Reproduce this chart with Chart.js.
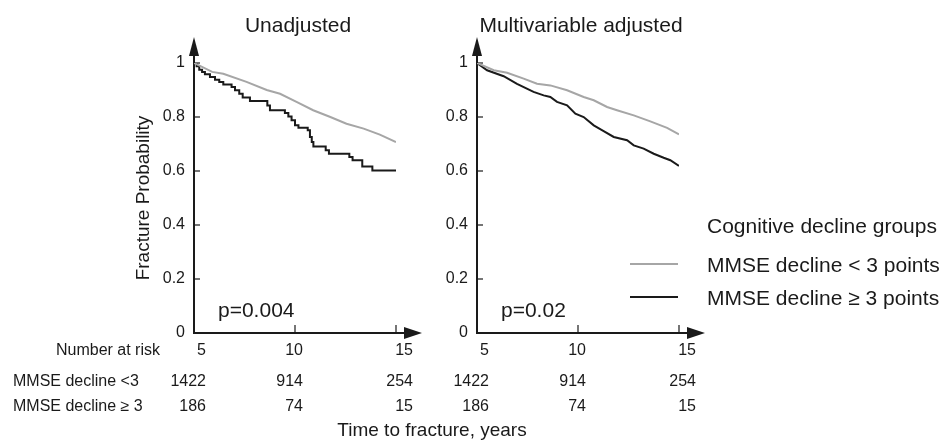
<!DOCTYPE html>
<html><head><meta charset="utf-8">
<script src="https://cdn.jsdelivr.net/npm/chart.js@4.4.1/dist/chart.umd.min.js"></script>
<style>
html,body{margin:0;padding:0;background:#fff;}
#wrap{position:relative;width:944px;height:440px;background:#fff;}
canvas{position:absolute;left:0;top:0;}
</style></head><body>
<div id="wrap"><canvas id="c1" width="944" height="440"></canvas><canvas id="c2" width="944" height="440"></canvas></div>
<script>
// ---- text ----
const panelTitles = ['Unadjusted', 'Multivariable adjusted'];
const pValues = ['p=0.004', 'p=0.02'];
const seriesLabels = ['MMSE decline < 3 points', 'MMSE decline \u2265 3 points'];
const legendTitle = 'Cognitive decline groups';
const yAxisTitle = 'Fracture Probability';
const xAxisTitle = 'Time to fracture, years';
const riskHeader = 'Number at risk';
const riskRowLabels = ['MMSE decline <3', 'MMSE decline \u2265 3'];

// ---- ticks ----
const yTicks = [0, 0.2, 0.4, 0.6, 0.8, 1];
const xTicks = [5, 10, 15];

// ---- number at risk ----
const riskLow = [1422, 914, 254];
const riskHigh = [186, 74, 15];

// ---- unadjusted curves ----
const unadjLowTime = [5, 5.9, 6.45, 7.6, 8.6, 9.26, 10.1, 10.9, 11.75, 12.55, 13.4, 14.2, 15];
const unadjLowSurv = [1, 0.967, 0.96, 0.93, 0.90, 0.886, 0.855, 0.825, 0.80, 0.775, 0.757, 0.735, 0.707];
const unadjHighTime = [5, 5.13, 5.26, 5.40, 5.54, 5.79, 6.04, 6.25, 6.45, 6.86, 7.03, 7.24, 7.41, 7.77, 8.63, 8.76, 9.5, 9.67, 9.83, 10.0, 10.17, 10.63, 10.74, 10.83, 10.91, 11.52, 11.68, 12.69, 12.85, 13.33, 13.83, 15];
const unadjHighSurv = [1, 0.988, 0.975, 0.967, 0.958, 0.948, 0.938, 0.93, 0.92, 0.911, 0.899, 0.886, 0.872, 0.859, 0.843, 0.825, 0.815, 0.802, 0.788, 0.769, 0.76, 0.751, 0.726, 0.707, 0.691, 0.677, 0.664, 0.652, 0.64, 0.617, 0.602, 0.602];

// ---- adjusted curves ----
const adjLowTime = [5, 5.83, 6.49, 7.31, 7.97, 8.63, 9.46, 10.28, 10.78, 11.44, 11.93, 12.76, 13.58, 14.41, 15];
const adjLowSurv = [1, 0.973, 0.964, 0.942, 0.923, 0.917, 0.899, 0.874, 0.862, 0.837, 0.825, 0.806, 0.784, 0.76, 0.736];
const adjHighTime = [5, 5.5, 6.32, 6.98, 7.8, 8.3, 8.63, 8.96, 9.46, 9.87, 10.28, 10.78, 11.27, 11.77, 12.43, 12.76, 13.25, 13.75, 14.24, 14.57, 15];
const adjHighSurv = [1, 0.973, 0.951, 0.923, 0.893, 0.88, 0.874, 0.856, 0.843, 0.812, 0.80, 0.769, 0.748, 0.726, 0.714, 0.695, 0.683, 0.664, 0.649, 0.64, 0.619];

const INK = '#1a1a1a';
const GREY = '#a6a6a6';
const FONT = "'Liberation Sans', Arial, Helvetica, sans-serif";

function pts(t, s) { return t.map((v, i) => ({x: v, y: s[i]})); }

const decor = {
  id: 'decor',
  beforeDatasetsDraw(chart, args, o) {
    const {ctx, chartArea: a, scales: {x, y}} = chart;
    const x0 = a.left, yb = y.getPixelForValue(0), yt = y.getPixelForValue(1);
    const xe = x.getPixelForValue(15);
    ctx.save();
    ctx.strokeStyle = INK; ctx.fillStyle = INK; ctx.lineWidth = 2;
    // y axis + arrow
    ctx.beginPath(); ctx.moveTo(x0, yb + 1); ctx.lineTo(x0, yt - 8); ctx.stroke();
    ctx.beginPath(); ctx.moveTo(x0 - 5, yt - 7); ctx.lineTo(x0 + 5, yt - 7); ctx.lineTo(x0, yt - 26); ctx.closePath(); ctx.fill();
    // x axis + arrow
    ctx.beginPath(); ctx.moveTo(x0 - 1, yb); ctx.lineTo(xe + 9, yb); ctx.stroke();
    ctx.beginPath(); ctx.moveTo(xe + 8, yb - 6); ctx.lineTo(xe + 8, yb + 6); ctx.lineTo(xe + 26, yb); ctx.closePath(); ctx.fill();
    // inner tick marks
    ctx.lineWidth = 1.2;
    yTicks.forEach(v => { if (v === 0) return; const p = y.getPixelForValue(v); ctx.beginPath(); ctx.moveTo(x0, p); ctx.lineTo(x0 + 6, p); ctx.stroke(); });
    xTicks.forEach(v => { if (v === xTicks[0]) return; const p = x.getPixelForValue(v); ctx.beginPath(); ctx.moveTo(p, yb); ctx.lineTo(p, yb - 8); ctx.stroke(); });
    ctx.restore();
  },
  afterDraw(chart, args, o) {
    const {ctx, chartArea: a, scales: {x, y}} = chart;
    ctx.save();
    ctx.fillStyle = INK;
    // panel title
    ctx.font = '21px ' + FONT; ctx.textAlign = 'center'; ctx.textBaseline = 'alphabetic';
    ctx.fillText(o.title, (a.left + a.right) / 2 + 3, 32);
    // p value
    ctx.textAlign = 'left';
    ctx.fillText(o.p, a.left + 24, 317);
    // number-at-risk table
    const off = [12, 8, 17];
    ctx.font = '16px ' + FONT; ctx.textAlign = 'right'; ctx.textBaseline = 'middle';
    xTicks.forEach((t, i) => {
      const px = x.getPixelForValue(t) + off[i];
      ctx.fillText(String(t), px, 351);
      ctx.fillText(String(riskLow[i]), px, 382);
      ctx.fillText(String(riskHigh[i]), px, 407);
    });
    if (o.rowLabels) {
      ctx.textAlign = 'right';
      ctx.fillText(riskHeader, 160, 351);
      ctx.textAlign = 'left';
      ctx.fillText(riskRowLabels[0], 13, 382);
      ctx.fillText(riskRowLabels[1], 13, 407);
      ctx.font = '19px ' + FONT; ctx.textAlign = 'center'; ctx.textBaseline = 'alphabetic';
      ctx.fillText(xAxisTitle, 432, 436);
    }
    if (o.legend) {
      ctx.font = '21px ' + FONT; ctx.textAlign = 'left'; ctx.textBaseline = 'alphabetic';
      ctx.fillText(legendTitle, 707, 233);
      const ys = [264, 297];
      chart.data.datasets.forEach((ds, i) => {
        ctx.strokeStyle = ds.borderColor; ctx.lineWidth = 2.2;
        ctx.beginPath(); ctx.moveTo(630, ys[i]); ctx.lineTo(678, ys[i]); ctx.stroke();
        ctx.fillStyle = INK;
        ctx.fillText(ds.label, 707, ys[i] + 7.5);
      });
    }
    ctx.restore();
  }
};

function makeChart(id, lowT, lowS, highT, highS, idx, pad, yWidth, showYTitle) {
  return new Chart(document.getElementById(id), {
    type: 'line',
    data: {
      datasets: [
        {label: seriesLabels[0], data: pts(lowT, lowS), borderColor: GREY, borderWidth: 2, pointRadius: 0, tension: 0, stepped: false, fill: false},
        {label: seriesLabels[1], data: pts(highT, highS), borderColor: INK, borderWidth: 2, pointRadius: 0, tension: 0, stepped: idx === 0, fill: false}
      ]
    },
    options: {
      responsive: false, animation: false, devicePixelRatio: 1,
      layout: {padding: pad},
      plugins: {
        legend: {display: false}, tooltip: {enabled: false}, title: {display: false},
        decor: {title: panelTitles[idx], p: pValues[idx], rowLabels: idx === 0, legend: idx === 1}
      },
      scales: {
        x: {
          type: 'linear', min: 5, max: 15,
          afterBuildTicks: s => { s.ticks = xTicks.map(v => ({value: v})); },
          afterFit: s => { s.height = 30; },
          ticks: {display: false},
          grid: {display: false, drawTicks: false},
          border: {display: false}
        },
        y: {
          type: 'linear', min: 0, max: 1,
          afterBuildTicks: s => { s.ticks = yTicks.map(v => ({value: v})); },
          afterFit: s => { s.width = yWidth; },
          ticks: {color: INK, padding: 9, font: {family: FONT, size: 16}, callback: v => String(v)},
          grid: {display: false, drawTicks: false},
          border: {display: false},
          title: {display: showYTitle, text: yAxisTitle, color: INK, font: {family: FONT, size: 19}, padding: {top: 4, bottom: 4}}
        }
      }
    },
    plugins: [decor]
  });
}

makeChart('c1', unadjLowTime, unadjLowSurv, unadjHighTime, unadjHighSurv, 0,
  {left: 128, right: 944 - 396, top: 63, bottom: 440 - 333 - 30}, 66, true);
makeChart('c2', adjLowTime, adjLowSurv, adjHighTime, adjHighSurv, 1,
  {left: 477 - 40, right: 944 - 679, top: 63, bottom: 440 - 333 - 30}, 40, false);
</script>
</body></html>
